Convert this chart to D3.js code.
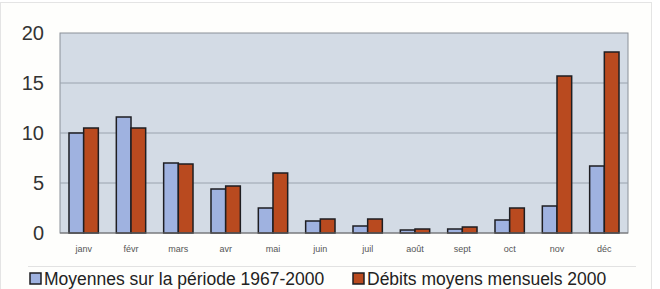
<!DOCTYPE html>
<html>
<head>
<meta charset="utf-8">
<script src="https://cdn.jsdelivr.net/npm/d3@7"></script>
<style>
  body { margin: 0; background: #fff; }
  svg { font-family: Arial, "Liberation Sans", sans-serif; }
</style>
</head>
<body>
<div id="chart"></div>
<script>
// data
var months = ["janv", "févr", "mars", "avr", "mai", "juin", "juil", "août", "sept", "oct", "nov", "déc"];
var moyennes = [10.0, 11.6, 7.0, 4.4, 2.5, 1.2, 0.7, 0.3, 0.4, 1.3, 2.7, 6.7];
var debits2000 = [10.5, 10.5, 6.9, 4.7, 6.0, 1.4, 1.4, 0.4, 0.6, 2.5, 15.7, 18.1];
var seriesNames = ["Moyennes sur la période 1967-2000", "Débits moyens mensuels 2000"];
var yTicks = [0, 5, 10, 15, 20];

var W = 660, H = 289;
var margin = {top: 33, right: 32, bottom: 56, left: 60},
    width = W - margin.left - margin.right,
    height = H - margin.top - margin.bottom;

var svg = d3.select("#chart").append("svg")
    .attr("width", W)
    .attr("height", H);

// faint outer frame
svg.append("rect")
    .attr("x", 0.5).attr("y", 2.5)
    .attr("width", 651).attr("height", 300)
    .attr("fill", "#fefefc")
    .attr("stroke", "#e4e4e4");

var g = svg.append("g")
    .attr("transform", "translate(" + margin.left + "," + margin.top + ")");

var x0 = d3.scaleBand().domain(months).range([0, width]).paddingInner(0.38).paddingOuter(0.19);
var x1 = d3.scaleBand().domain([0, 1]).range([0, x0.bandwidth()]);
var y = d3.scaleLinear().domain([0, 20]).range([height, 0]);

// plot background
g.append("rect")
    .attr("width", width).attr("height", height)
    .attr("fill", "#d3dbe5")
    .attr("stroke", "#8a9098");

// gridlines
g.selectAll(".grid")
    .data(yTicks.filter(function(d) { return d > 0 && d < 20; }))
    .enter().append("line")
    .attr("x1", 0).attr("x2", width)
    .attr("y1", function(d) { return y(d); })
    .attr("y2", function(d) { return y(d); })
    .attr("stroke", "#9aa3ae")
    .attr("stroke-width", 1);

// bars
var colors = ["#9fb2e0", "#b94a1f"];
var groups = g.selectAll(".month")
    .data(months)
    .enter().append("g")
    .attr("transform", function(d) { return "translate(" + x0(d) + ",0)"; });

groups.selectAll("rect")
    .data(function(d, i) { return [moyennes[i], debits2000[i]]; })
    .enter().append("rect")
    .attr("x", function(d, j) { return x1(j); })
    .attr("y", function(d) { return y(d); })
    .attr("width", x1.bandwidth())
    .attr("height", function(d) { return height - y(d); })
    .attr("fill", function(d, j) { return colors[j]; })
    .attr("stroke", "#1e1e22")
    .attr("stroke-width", 1.5);

// baseline
g.append("line")
    .attr("x1", 0).attr("x2", width)
    .attr("y1", height).attr("y2", height)
    .attr("stroke", "#707070");

// Y axis
var yAxis = g.append("g")
    .call(d3.axisLeft(y).tickValues(yTicks).tickSize(0).tickPadding(16));
yAxis.select(".domain").remove();
yAxis.selectAll("text")
    .attr("font-size", 20)
    .attr("fill", "#333")
    .attr("font-family", "Arial, 'Liberation Sans', sans-serif");

// X axis
var xAxis = g.append("g")
    .attr("transform", "translate(0," + height + ")")
    .call(d3.axisBottom(x0).tickSize(0).tickPadding(13));
xAxis.select(".domain").remove();
xAxis.selectAll("text")
    .attr("font-size", 9)
    .attr("fill", "#555")
    .attr("font-family", "Arial, 'Liberation Sans', sans-serif");

// separator above legend
svg.append("line")
    .attr("x1", 28).attr("x2", 636)
    .attr("y1", 266.5).attr("y2", 266.5)
    .attr("stroke", "#e2e2e2");

// legend
var legendX = [30, 353];
var legend = svg.selectAll(".legend")
    .data(seriesNames)
    .enter().append("g")
    .attr("transform", function(d, i) { return "translate(" + legendX[i] + ",273)"; });

legend.append("rect")
    .attr("width", 11).attr("height", 11)
    .attr("fill", function(d, i) { return colors[i]; })
    .attr("stroke", "#1e1e22")
    .attr("stroke-width", 1.5);

legend.append("text")
    .attr("x", 14).attr("y", 12)
    .attr("font-size", 17.5)
    .attr("fill", "#222")
    .text(function(d) { return d; });
</script>
</body>
</html>
